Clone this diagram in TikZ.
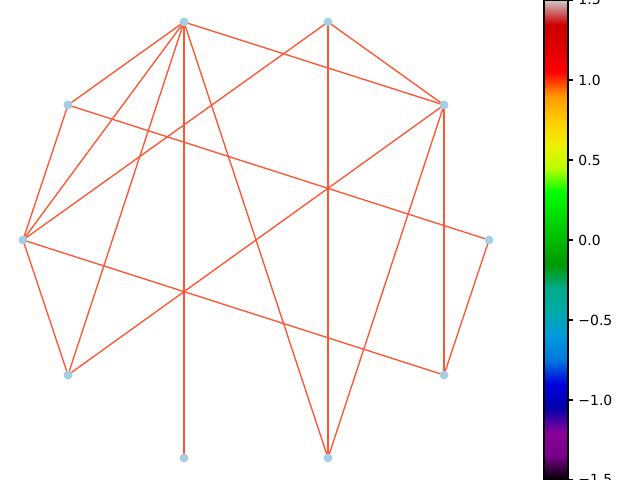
\documentclass[tikz,border=0pt]{standalone}
\usepackage{fontspec}
\setmainfont{DejaVu Sans}
\usetikzlibrary{backgrounds}
\definecolor{EdgeRed}  {RGB}{255, 85,  50}
\definecolor{NodeBlue} {RGB}{166, 206, 227}

\begin{document}
\begin{tikzpicture}[
  x=0.015625cm, y=-0.015625cm,
  font=\fontsize{6.2}{7}\selectfont,
  vertex/.style={
    circle, fill=NodeBlue,
    inner sep=0pt,
    minimum size=0.14cm},
  link/.style={
    draw=EdgeRed, line width=0.6pt},
  ticklabel/.style={
    anchor=west, inner sep=0pt}
]
\useasboundingbox (0,0) rectangle (640,480);

\node[vertex] (a) at (184,22)  {};
\node[vertex] (b) at (328,22)  {};
\node[vertex] (c) at (68,105)  {};
\node[vertex] (d) at (444,105) {};
\node[vertex] (e) at (23,240)  {};
\node[vertex] (f) at (489,240) {};
\node[vertex] (g) at (68,375)  {};
\node[vertex] (h) at (444,375) {};
\node[vertex] (i) at (184,458) {};
\node[vertex] (j) at (328,458) {};

\begin{scope}[on background layer]
\foreach \u/\v in {a/c, a/e, a/g, a/i, a/j, a/d,
    b/e, b/j, b/d, c/e, c/f, e/g, e/h,
    d/g, d/h, d/j, f/h}
  \draw[link] (\u.center) -- (\v.center);
\end{scope}

\foreach \k/\r/\g/\b in {
    0/0/0/0, 1/0.4667/0/0.5333, 2/0.5333/0/0.6,
    3/0/0/0.6667, 4/0/0/0.8667, 5/0/0.4667/0.8667,
    6/0/0.6/0.8667, 7/0/0.6667/0.6667, 8/0/0.6667/0.5333,
    9/0/0.6/0, 10/0/0.7333/0, 11/0/0.8667/0,
    12/0/1/0, 13/0.7333/1/0, 14/0.9333/0.9333/0,
    15/1/0.8/0, 16/1/0.6/0, 17/1/0/0,
    18/0.8667/0/0, 19/0.8/0/0, 20/0.8/0.8/0.8}
  \xglobal\definecolor{nps\k}{rgb}{\r,\g,\b};

\foreach \k [evaluate=\k as \m using int(\k+1)] in {0,...,19}
  \shade[bottom color=nps\k, top color=nps\m]
    (544,{480.3-24*\k}) rectangle (568,{479.7-24*\m});
\draw[line width=0.5pt] (544,0) rectangle (568,480);

\foreach \y/\lab in {0/1.5, 80/1.0, 160/0.5, 240/0.0,
    320/−0.5, 400/−1.0, 480/−1.5} {
  \draw[line width=0.5pt] (568,\y) -- (573,\y);
  \node[ticklabel] (lab\y) at (578,\y) {\lab};
}
\end{tikzpicture}
\end{document}
